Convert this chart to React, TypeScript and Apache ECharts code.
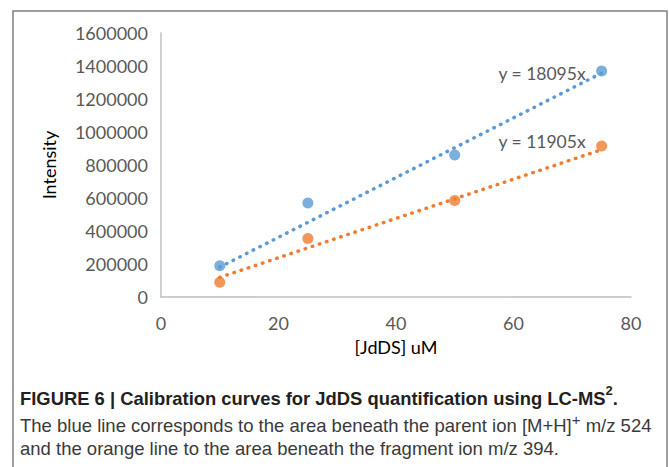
import React, { useEffect, useRef } from "react";
import * as echarts from "echarts";

const concentrations = [10, 25, 50, 75];
const parentIon = [190000, 570000, 860000, 1370000];
const fragmentIon = [90000, 355000, 585000, 915000];
const slopes = [18095, 11905];
const trendLabels = ["y = 18095x", "y = 11905x"];
const xTicks = { min: 0, max: 80, interval: 20 };
const yTicks = { min: 0, max: 1600000, interval: 200000 };
const colors = ["#5B9BD5", "#ED7D31"];

const CAP_FONT = "'Liberation Sans', Arial, sans-serif";

export default function App() {
  const ref = useRef<HTMLDivElement>(null);
  useEffect(() => {
    const chart = echarts.init(ref.current!, null, { renderer: "svg" });
    const x0 = concentrations[0];
    const x1 = concentrations[concentrations.length - 1];
    const trend = (k: number, i: number) => ({
      type: "line",
      data: [
        [x0, k * x0],
        [x1, k * x1],
      ],
      symbol: "none",
      showSymbol: false,
      lineStyle: { color: colors[i], width: 3.5, type: [0.5, 7], cap: "round" },
      endLabel: {
        show: true,
        formatter: trendLabels[i],
        align: "right",
        verticalAlign: "middle",
        distance: 0,
        offset: [-16, i === 0 ? 0 : -8],
        color: "#595959",
        fontSize: 17.5,
        fontFamily: "Lato",
      },
      z: 2,
      silent: true,
    });
    const scatter = (vals: number[], i: number) => ({
      type: "scatter",
      data: concentrations.map((c, j) => [c, vals[j]]),
      symbolSize: 11,
      itemStyle: { color: colors[i] },
      z: 3,
    });
    const axisLabel = { color: "#595959", fontSize: 18, fontFamily: "Lato", formatter: (v: number) => String(v) };
    chart.setOption({
      animation: false,
      grid: { left: 161, right: 38, top: 33, bottom: 170 },
      xAxis: {
        type: "value",
        ...xTicks,
        axisLine: { show: true, lineStyle: { color: "#BFBFBF", width: 1.5 } },
        axisTick: { show: false },
        splitLine: { show: false },
        axisLabel: { ...axisLabel, margin: 17 },
        name: "[JdDS] uM",
        nameLocation: "middle",
        nameGap: 41,
        nameTextStyle: { color: "#000", fontSize: 18, fontFamily: "Lato" },
      },
      yAxis: {
        type: "value",
        ...yTicks,
        axisLine: { show: true, lineStyle: { color: "#BFBFBF", width: 1.5 } },
        axisTick: { show: false },
        splitLine: { show: false },
        axisLabel: { ...axisLabel, margin: 13 },
        name: "Intensity",
        nameLocation: "middle",
        nameGap: 103,
        nameTextStyle: { color: "#000", fontSize: 18, fontFamily: "Lato" },
      },
      series: [trend(slopes[0], 0), trend(slopes[1], 1), scatter(parentIon, 0), scatter(fragmentIon, 1)],
      graphic: [
        { type: "rect", shape: { x: 13, y: 11, width: 654, height: 480 }, style: { fill: "none", stroke: "#7F7F7F", lineWidth: 1.5 }, silent: true },
        {
          type: "text",
          left: 20,
          top: 384,
          style: {
            text: "{b|FIGURE 6 | Calibration curves for JdDS quantification using LC-MS}{bs|2}{b|.}",
            rich: {
              b: { fontFamily: CAP_FONT, fontWeight: "bold", fontSize: 18.4, fill: "#231F20", verticalAlign: "bottom", lineHeight: 23 },
              bs: { fontFamily: CAP_FONT, fontWeight: "bold", fontSize: 13, fill: "#231F20", verticalAlign: "top", lineHeight: 21 },
            },
          },
        },
        {
          type: "text",
          left: 20,
          top: 412,
          style: {
            text: "{r|The blue line corresponds to the area beneath the parent ion [M+H]}{s|+}{r| m/z 524}\n{r|and the orange line to the area beneath the fragment ion m/z 394.}",
            rich: {
              r: { fontFamily: CAP_FONT, fontSize: 18.5, fill: "#3A3A3A", verticalAlign: "bottom", lineHeight: 23 },
              s: { fontFamily: CAP_FONT, fontSize: 15, fill: "#3A3A3A", verticalAlign: "top", lineHeight: 21 },
            },
          },
        },
      ],
    });
    return () => chart.dispose();
  }, []);
  return <div ref={ref} style={{ position: "fixed", left: 0, top: 0, width: 669, height: 467, background: "#fff" }} />;
}
